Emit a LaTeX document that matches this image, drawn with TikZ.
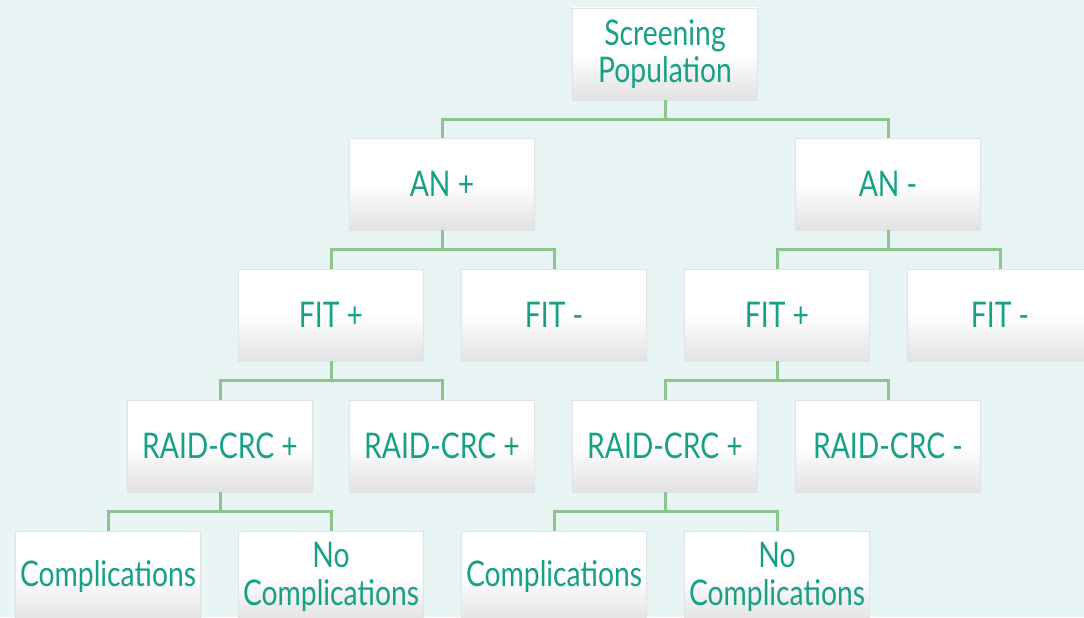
\documentclass[tikz,border=0pt]{standalone}
\usepackage{fontspec}
\setmainfont{Lato}[FakeStretch=0.8]
\definecolor{bgc}{RGB}{232,243,243}
\definecolor{txt}{RGB}{22,160,133}
\definecolor{lnc}{RGB}{141,196,139}
\definecolor{boxgray}{RGB}{226,226,226}
\definecolor{boxmid}{RGB}{242,242,242}
\definecolor{boxedge}{RGB}{222,228,228}
\pgfdeclareverticalshading{boxshade}{100bp}{color(0bp)=(boxgray); color(25bp)=(boxgray); color(40bp)=(boxmid); color(50bp)=(white); color(100bp)=(white)}
\begin{document}
\begin{tikzpicture}[x=0.75pt,y=-0.75pt,
  box/.style={minimum width=138.75pt, minimum height=69pt, inner sep=0pt,
    shading=boxshade, draw=boxedge, line width=0.5pt, text=txt,
    font=\fontsize{26.5}{28}\selectfont, align=center},
  conn/.style={draw=lnc, line width=2.25pt}]
\fill[bgc] (0,0) rectangle (1084,617);
\useasboundingbox (0,0) rectangle (1084,617);
\clip (0,0) rectangle (1084,617);
\node[box] (sp) at (665,54) {Screening\\Population};
\node[box] (anp) at (442,184) {AN +};
\node[box] (anm) at (888,184) {AN -};
\node[box] (f1) at (331,315) {FIT +};
\node[box] (f2) at (554,315) {FIT -};
\node[box] (f3) at (777,315) {FIT +};
\node[box] (f4) at (1000,315) {FIT -};
\node[box] (r1) at (220,446) {RAID-CRC +};
\node[box] (r2) at (442,446) {RAID-CRC +};
\node[box] (r3) at (665,446) {RAID-CRC +};
\node[box] (r4) at (888,446) {RAID-CRC -};
\node[box] (c1) at (108,577) {Complications};
\node[box] (c2) at (331,577) {No\\Complications};
\node[box] (c3) at (554,577) {Complications};
\node[box] (c4) at (777,577) {No\\Complications};
\foreach \p/\a/\b in {sp/anp/anm, anp/f1/f2, anm/f3/f4, f1/r1/r2, f3/r3/r4, r1/c1/c2, r3/c3/c4}{
  \draw[conn] (\p.south) -- ++(0,19) -| (\a.north);
  \draw[conn] (\p.south) -- ++(0,19) -| (\b.north);
}
\end{tikzpicture}
\end{document}
